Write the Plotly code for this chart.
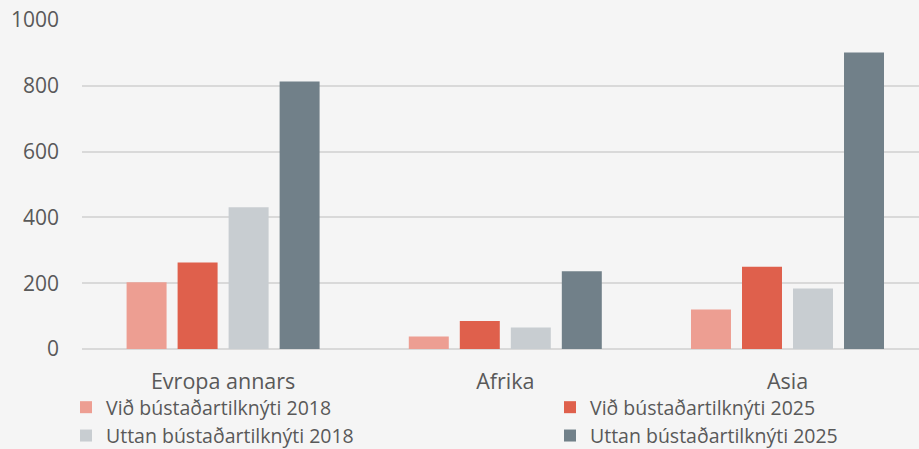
import plotly.graph_objects as go

categories = ["Evropa annars", "Afrika", "Asia"]
series_names = ["Við bústaðartilknýti 2018", "Við bústaðartilknýti 2025",
                "Uttan bústaðartilknýti 2018", "Uttan bústaðartilknýti 2025"]
vid_2018 = [203, 38, 120]
vid_2025 = [263, 85, 250]
uttan_2018 = [431, 65, 184]
uttan_2025 = [813, 236, 901]
colors = ["#ED9E92", "#DF604C", "#C8CDD1", "#718089"]
legend_ids = ["legend", "legend2", "legend", "legend2"]
y_ticks = [0, 200, 400, 600, 800, 1000]

FONT = "Open Sans"
TXT = "#595959"

fig = go.Figure()
for name, vals, col, lg in zip(series_names, [vid_2018, vid_2025, uttan_2018, uttan_2025], colors, legend_ids):
    fig.add_trace(go.Bar(x=categories, y=vals, name=name, legend=lg,
                         marker=dict(color=col, line=dict(width=0))))

leg_common = dict(orientation="v", xref="container", yref="container", xanchor="left", yanchor="top",
                  y=1 - 388/449, traceorder="normal", font=dict(size=19.5, color=TXT),
                  itemwidth=30, tracegroupgap=0, bgcolor="rgba(0,0,0,0)")

fig.update_layout(
    width=919, height=449,
    barmode="group", bargap=0.277, bargroupgap=0.216,
    paper_bgcolor="#F5F5F5", plot_bgcolor="#F5F5F5",
    margin=dict(l=82, r=0, t=20, b=100, autoexpand=False),
    font=dict(family=FONT, size=21, color=TXT),
    showlegend=True,
    legend=dict(x=66/919, **leg_common),
    legend2=dict(x=550/919, **leg_common),
    xaxis=dict(range=[-0.5, 2.466], showgrid=False, showline=False, ticks="",
               ticklabelstandoff=17, tickfont=dict(size=21.5, color=TXT), fixedrange=True),
    yaxis=dict(range=[0, 1000], tickvals=y_ticks, showgrid=True, gridcolor="#D9D9D9", gridwidth=1.5,
               zeroline=True, zerolinecolor="#D9D9D9", zerolinewidth=1.5, showline=False,
               ticks="", ticklabelstandoff=22, tickfont=dict(size=21, color=TXT), fixedrange=True),
)

fig.write_html("out.html", config={"displayModeBar": False},
               post_script="document.body.style.margin='0';")
